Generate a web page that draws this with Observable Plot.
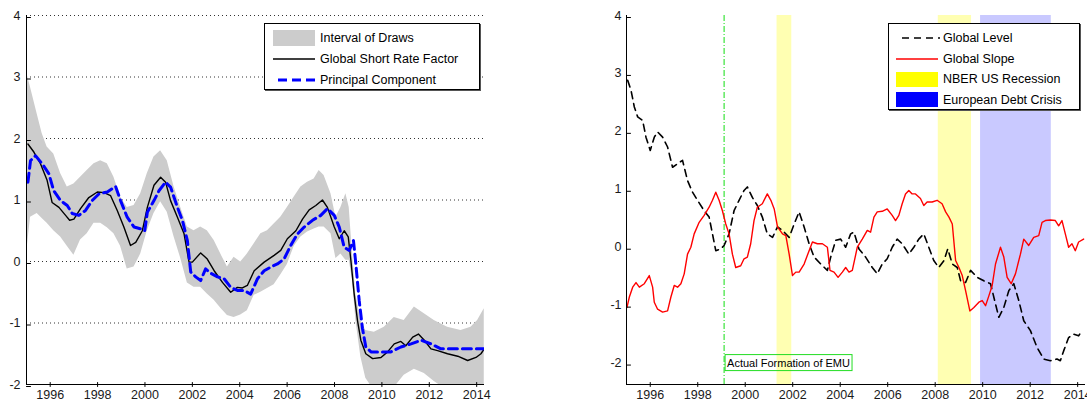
<!DOCTYPE html>
<html>
<head>
<meta charset="utf-8">
<script src="https://cdn.jsdelivr.net/npm/d3@7"></script>
<script src="https://cdn.jsdelivr.net/npm/@observablehq/plot@0.6"></script>
<style>
  body { margin: 0; background: #fff; }
  #wrap { position: relative; width: 1087px; height: 403px; overflow: hidden; background: #fff;
          font-family: "Liberation Sans", Arial, sans-serif; }
  .panel { position: absolute; top: 0; }
  .legend { position: absolute; border: 1px solid #000; background: #fff; box-shadow: 1px 1px 0 #555;
            font-size: 12.5px; color: #000; }
  .legend .row { position: absolute; left: 0; right: 0; height: 16px; line-height: 16px; white-space: nowrap; }
  .legend .sw { position: absolute; top: 0; height: 16px; }
  .legend .tx { position: absolute; top: 0; }
</style>
</head>
<body>
<div id="wrap">
  <div id="leftPanel" class="panel" style="left:0px"></div>
  <div id="rightPanel" class="panel" style="left:590px"></div>
</div>
<script>
// ---------------- Data ----------------
const xTicks = [1996, 1998, 2000, 2002, 2004, 2006, 2008, 2010, 2012, 2014];
const yTicks = [-2, -1, 0, 1, 2, 3, 4];
const gridLevels = [-1, 0, 1, 2, 3, 4];

// Left panel: Interval of Draws (band)
const bandYear = [1995.00,1995.17,1995.45,1995.66,1995.87,1996.15,1996.44,1996.72,1997.00,1997.28,1997.56,1997.85,1998.13,1998.41,1998.69,1998.97,1999.25,1999.54,1999.82,2000.10,2000.38,2000.66,2000.94,2001.23,2001.51,2001.79,2002.07,2002.35,2002.63,2002.92,2003.20,2003.48,2003.76,2004.04,2004.32,2004.61,2004.89,2005.17,2005.45,2005.73,2006.01,2006.30,2006.58,2006.86,2007.14,2007.35,2007.56,2007.85,2008.06,2008.27,2008.48,2008.62,2008.76,2008.90,2009.11,2009.32,2009.68,2010.10,2010.52,2010.94,2011.37,2011.79,2012.21,2012.77,2013.34,2013.76,2014.04,2014.32];
const bandUpper = [3.08,2.83,2.40,2.08,1.86,1.75,1.43,1.21,1.26,1.37,1.48,1.59,1.64,1.59,1.37,1.05,0.88,0.91,1.10,1.43,1.70,1.80,1.64,1.21,0.88,0.56,0.50,0.56,0.50,0.34,0.12,-0.09,0.07,-0.01,0.12,0.29,0.45,0.50,0.61,0.72,0.88,1.05,1.21,1.29,1.34,1.48,1.40,1.10,0.72,0.88,1.10,0.88,0.12,-0.53,-0.96,-1.12,-1.15,-1.07,-0.91,-0.96,-0.74,-0.85,-0.96,-1.07,-1.12,-1.07,-0.96,-0.77];
const bandLower = [0.12,0.72,0.78,0.70,0.62,0.50,0.40,0.25,0.10,0.35,0.45,0.62,0.62,0.55,0.45,0.25,-0.12,-0.09,0.12,0.50,0.78,0.97,0.80,0.40,0.05,-0.35,-0.42,-0.42,-0.53,-0.63,-0.76,-0.88,-0.91,-0.87,-0.80,-0.55,-0.50,-0.44,-0.38,-0.22,-0.05,0.25,0.40,0.48,0.53,0.56,0.56,0.45,0.05,0.12,0.02,0.02,-0.30,-0.95,-1.55,-1.90,-2.10,-2.10,-2.05,-1.85,-1.75,-1.82,-1.95,-2.10,-2.10,-2.10,-2.10,-2.10];

// Left panel: Global Short Rate Factor
const shortRateYear = [1995.06,1995.31,1995.59,1995.87,1996.08,1996.37,1996.65,1996.82,1997.00,1997.28,1997.63,1997.99,1998.27,1998.55,1998.83,1999.11,1999.39,1999.61,1999.89,2000.10,2000.38,2000.66,2000.87,2001.08,2001.37,2001.65,2001.86,2002.00,2002.35,2002.63,2002.92,2003.27,2003.62,2003.90,2004.11,2004.32,2004.61,2005.03,2005.45,2005.73,2006.01,2006.37,2006.65,2006.93,2007.21,2007.49,2007.70,2007.99,2008.20,2008.41,2008.58,2008.69,2008.83,2008.97,2009.11,2009.32,2009.61,2009.96,2010.24,2010.52,2010.80,2011.01,2011.30,2011.54,2011.79,2012.07,2012.35,2012.77,2013.20,2013.62,2013.97,2014.18,2014.32];
const shortRateValue = [1.91,1.78,1.59,1.32,0.96,0.88,0.75,0.67,0.69,0.86,1.04,1.13,1.12,1.07,0.83,0.56,0.26,0.31,0.50,0.88,1.24,1.37,1.29,0.99,0.72,0.45,-0.01,-0.01,0.14,0.04,-0.15,-0.34,-0.50,-0.42,-0.43,-0.39,-0.15,-0.01,0.10,0.18,0.37,0.50,0.69,0.84,0.91,1.00,0.88,0.56,0.37,0.50,0.40,0.02,-0.53,-0.96,-1.28,-1.50,-1.58,-1.56,-1.47,-1.34,-1.30,-1.37,-1.23,-1.18,-1.28,-1.42,-1.45,-1.50,-1.54,-1.61,-1.56,-1.50,-1.42];

// Left panel: Principal Component
const pcYear = [1995.06,1995.17,1995.38,1995.66,1995.94,1996.15,1996.44,1996.72,1996.93,1997.21,1997.49,1997.77,1998.06,1998.41,1998.76,1998.97,1999.25,1999.54,1999.82,1999.99,2000.10,2000.38,2000.59,2000.87,2001.08,2001.37,2001.58,2001.79,2001.93,2002.14,2002.35,2002.56,2002.77,2003.06,2003.34,2003.62,2003.90,2004.18,2004.46,2004.75,2005.03,2005.31,2005.59,2005.87,2006.15,2006.44,2006.72,2007.07,2007.42,2007.70,2007.99,2008.20,2008.41,2008.62,2008.80,2008.90,2009.04,2009.18,2009.32,2009.54,2009.96,2010.38,2010.80,2011.23,2011.65,2012.07,2012.49,2014.32];
const pcValue = [1.29,1.64,1.72,1.59,1.43,1.15,0.99,0.91,0.78,0.75,0.83,0.99,1.10,1.13,1.22,0.99,0.72,0.56,0.53,0.50,0.80,0.99,1.15,1.29,1.21,0.88,0.67,0.34,-0.17,-0.25,-0.31,-0.12,-0.19,-0.25,-0.28,-0.42,-0.47,-0.47,-0.53,-0.28,-0.15,-0.09,-0.04,0.04,0.26,0.45,0.56,0.67,0.75,0.86,0.75,0.56,0.23,0.18,0.34,-0.04,-0.63,-1.09,-1.39,-1.47,-1.47,-1.47,-1.39,-1.34,-1.28,-1.34,-1.42,-1.42];

// Right panel: Global Level
const levelYear = [1995.05,1995.19,1995.33,1995.47,1995.68,1995.82,1996.00,1996.17,1996.31,1996.52,1996.73,1996.94,1997.15,1997.36,1997.57,1997.78,1997.99,1998.27,1998.48,1998.62,1998.76,1998.97,1999.11,1999.32,1999.53,1999.74,1999.95,2000.09,2000.30,2000.51,2000.72,2000.93,2001.15,2001.36,2001.57,2001.85,2002.06,2002.27,2002.48,2002.69,2002.90,2003.18,2003.46,2003.60,2003.81,2004.02,2004.23,2004.44,2004.58,2004.79,2005.07,2005.35,2005.56,2005.77,2005.98,2006.19,2006.40,2006.61,2006.89,2007.10,2007.31,2007.52,2007.73,2007.94,2008.15,2008.37,2008.53,2008.72,2008.93,2009.07,2009.28,2009.49,2009.77,2010.05,2010.33,2010.54,2010.68,2010.89,2011.10,2011.31,2011.52,2011.73,2012.01,2012.29,2012.57,2012.85,2013.13,2013.27,2013.41,2013.62,2013.83,2014.04,2014.18];
const levelValue = [2.88,2.71,2.42,2.25,2.19,1.90,1.67,1.90,1.99,1.90,1.73,1.38,1.44,1.50,1.15,0.95,0.81,0.63,0.52,0.23,-0.06,-0.03,0.03,0.23,0.63,0.81,0.98,1.04,0.86,0.72,0.52,0.23,0.17,0.35,0.29,0.17,0.40,0.61,0.35,0.06,-0.17,-0.29,-0.40,-0.17,0.12,0.14,0.00,0.23,0.26,-0.03,-0.17,-0.35,-0.46,-0.29,-0.20,0.00,0.14,0.06,-0.12,0.00,0.14,0.23,0.00,-0.23,-0.35,-0.23,-0.03,-0.29,-0.35,-0.58,-0.61,-0.40,-0.52,-0.58,-0.63,-0.98,-1.21,-1.04,-0.75,-0.63,-0.92,-1.27,-1.44,-1.73,-1.93,-1.96,-1.93,-1.96,-1.79,-1.56,-1.50,-1.53,-1.44];

// Right panel: Global Slope
const slopeYear = [1995.02,1995.12,1995.26,1995.40,1995.54,1995.75,1995.96,1996.10,1996.17,1996.31,1996.52,1996.73,1996.87,1997.01,1997.15,1997.29,1997.43,1997.57,1997.71,1997.85,1998.06,1998.27,1998.48,1998.62,1998.76,1998.90,1999.04,1999.18,1999.32,1999.46,1999.60,1999.81,1999.95,2000.09,2000.23,2000.37,2000.51,2000.72,2000.93,2001.08,2001.22,2001.36,2001.57,2001.71,2001.85,2001.99,2002.13,2002.27,2002.48,2002.69,2002.83,2003.04,2003.25,2003.46,2003.57,2003.74,2003.91,2004.09,2004.23,2004.37,2004.51,2004.72,2004.93,2005.14,2005.28,2005.42,2005.56,2005.77,2005.98,2006.19,2006.33,2006.47,2006.61,2006.75,2006.89,2007.03,2007.17,2007.38,2007.52,2007.66,2007.87,2008.08,2008.29,2008.44,2008.58,2008.72,2008.86,2009.00,2009.14,2009.28,2009.46,2009.63,2009.84,2009.98,2010.12,2010.26,2010.40,2010.54,2010.75,2010.89,2011.03,2011.20,2011.38,2011.59,2011.73,2011.94,2012.15,2012.36,2012.50,2012.64,2012.85,2013.06,2013.20,2013.34,2013.48,2013.62,2013.76,2013.90,2014.04,2014.25];
const slopeValue = [-1.04,-0.86,-0.69,-0.61,-0.69,-0.63,-0.49,-0.69,-0.95,-1.07,-1.12,-1.10,-0.86,-0.66,-0.69,-0.63,-0.46,-0.12,0.00,0.23,0.43,0.55,0.69,0.81,0.95,0.81,0.63,0.40,0.23,-0.12,-0.35,-0.32,-0.20,-0.17,0.06,0.46,0.69,0.75,0.92,0.81,0.66,0.35,0.23,0.20,-0.12,-0.49,-0.43,-0.43,-0.29,-0.06,0.09,0.06,0.06,0.00,-0.40,-0.43,-0.52,-0.43,-0.35,-0.43,-0.40,0.00,0.14,0.29,0.26,0.52,0.61,0.62,0.66,0.55,0.46,0.55,0.75,0.92,0.98,0.92,0.92,0.84,0.72,0.78,0.78,0.81,0.75,0.61,0.52,0.40,-0.23,-0.35,-0.49,-0.75,-1.10,-1.04,-0.95,-0.92,-1.01,-0.84,-0.66,-0.29,0.00,-0.17,-0.52,-0.63,-0.46,-0.12,0.14,0.03,0.17,0.20,0.43,0.46,0.47,0.46,0.37,0.46,0.23,0.00,0.06,-0.06,0.09,0.14];

// Right panel: shaded periods and EMU marker
const nberStart = [2001.34, 2008.13];
const nberEnd = [2001.96, 2009.53];
const debtStart = [2009.91];
const debtEnd = [2012.89];
const emuDate = 1999.11;
const emuLabel = "Actual Formation of EMU";

const xDomain = [1995, 2014.33];
const leftYDomain = [-2, 4];
const rightYDomain = [-2.37, 4];

// ---------------- Build tables ----------------
const band = bandYear.map((year, i) => ({year, lo: bandLower[i], hi: bandUpper[i]}));
const shortRate = shortRateYear.map((year, i) => ({year, value: shortRateValue[i]}));
const pc = pcYear.map((year, i) => ({year, value: pcValue[i]}));
const level = levelYear.map((year, i) => ({year, value: levelValue[i]}));
const slope = slopeYear.map((year, i) => ({year, value: slopeValue[i]}));
const nber = nberStart.map((start, i) => ({start, end: nberEnd[i]}));
const debt = debtStart.map((start, i) => ({start, end: debtEnd[i]}));

const tickRight = {draw(ctx, l) { ctx.moveTo(0, 0); ctx.lineTo(l, 0); }};
const tickUp = {draw(ctx, l) { ctx.moveTo(0, 0); ctx.lineTo(0, -l); }};

const font = "'Liberation Sans', Arial, sans-serif";
const fmt = d => String(d);

function axesMarks(yDom, yPad) {
  return [
    Plot.ruleX([xDomain[0]], {stroke: "#000", strokeWidth: 1}),
    Plot.ruleY([yDom[0]], {stroke: "#000", strokeWidth: 1}),
    Plot.axisY(yTicks, {tickSize: 0, tickPadding: yPad, label: null, tickFormat: fmt, fill: "#1a1a1a"}),
    Plot.axisX(xTicks, {tickSize: 0, tickPadding: 6, label: null, tickFormat: fmt, fill: "#1a1a1a"}),
    Plot.vector(yTicks, {x: xDomain[0], y: d => d, length: 4, shape: tickRight, stroke: "#000", strokeWidth: 1}),
    Plot.vector(xTicks, {x: d => d, y: yDom[0], length: 4, shape: tickUp, stroke: "#000", strokeWidth: 1})
  ];
}

const leftPlot = Plot.plot({
  width: 490, height: 403,
  marginLeft: 26, marginRight: 6, marginTop: 15, marginBottom: 19,
  x: {domain: xDomain},
  y: {domain: leftYDomain},
  style: {fontFamily: font, fontSize: "12.5px", background: "transparent", overflow: "visible"},
  marks: [
    Plot.ruleY(gridLevels, {stroke: "#333", strokeDasharray: "1,3", strokeWidth: 1}),
    Plot.areaY(band, {x: "year", y1: "lo", y2: "hi", fill: "#cccccc", clip: true}),
    Plot.line(shortRate, {x: "year", y: "value", stroke: "#000", strokeWidth: 1.4, clip: true}),
    Plot.line(pc, {x: "year", y: "value", stroke: "#0000ff", strokeWidth: 3, strokeDasharray: "9,5", clip: true}),
    ...axesMarks(leftYDomain, 6)
  ]
});
document.getElementById("leftPanel").appendChild(leftPlot);

const rightPlot = Plot.plot({
  width: 497, height: 403,
  marginLeft: 36, marginRight: 2, marginTop: 15, marginBottom: 19,
  x: {domain: xDomain},
  y: {domain: rightYDomain},
  style: {fontFamily: font, fontSize: "12.5px", background: "transparent", overflow: "visible"},
  marks: [
    Plot.rect(nber, {x1: "start", x2: "end", fill: "#ffff00", fillOpacity: 0.3}),
    Plot.rect(debt, {x1: "start", x2: "end", fill: "#0000ff", fillOpacity: 0.21}),
    Plot.ruleX([emuDate], {stroke: "#11dd11", strokeWidth: 1, strokeDasharray: "6,2,1,2"}),
    Plot.line(level, {x: "year", y: "value", stroke: "#000", strokeWidth: 1.6, strokeDasharray: "7,5", clip: true}),
    Plot.line(slope, {x: "year", y: "value", stroke: "#ff0000", strokeWidth: 1.4, clip: true}),
    Plot.text([emuLabel], {x: emuDate, y: -2, text: d => d, textAnchor: "start", dx: 3, fontSize: 11, fill: "#000"}),
    ...axesMarks(rightYDomain, 5)
  ]
});
document.getElementById("rightPanel").appendChild(rightPlot);

// Box around the EMU annotation
rightPlot.querySelectorAll("text").forEach(t => {
  if (t.textContent === emuLabel) {
    const b = t.getBBox();
    const r = document.createElementNS("http://www.w3.org/2000/svg", "rect");
    r.setAttribute("x", b.x - 2);
    r.setAttribute("y", b.y - 2);
    r.setAttribute("width", b.width + 4);
    r.setAttribute("height", b.height + 4);
    r.setAttribute("fill", "none");
    r.setAttribute("stroke", "#22dd22");
    r.setAttribute("stroke-width", "1");
    if (t.getAttribute("transform")) r.setAttribute("transform", t.getAttribute("transform"));
    t.parentNode.insertBefore(r, t);
  }
});

// ---------------- Legends (HTML) ----------------
function makeLegend(left, top, width, height, items) {
  const box = document.createElement("div");
  box.className = "legend";
  Object.assign(box.style, {left: left + "px", top: top + "px", width: width + "px", height: height + "px"});
  items.forEach(it => {
    const row = document.createElement("div");
    row.className = "row";
    row.style.top = (it.cy - 8) + "px";
    const sw = document.createElementNS("http://www.w3.org/2000/svg", "svg");
    sw.setAttribute("class", "sw");
    sw.setAttribute("width", 44);
    sw.setAttribute("height", 16);
    sw.style.left = it.swLeft + "px";
    sw.innerHTML = it.swatch;
    row.appendChild(sw);
    const tx = document.createElement("span");
    tx.className = "tx";
    tx.style.left = it.txLeft + "px";
    tx.textContent = it.label;
    row.appendChild(tx);
    box.appendChild(row);
  });
  document.getElementById("wrap").appendChild(box);
}

const leftLegendLabels = ["Interval of Draws", "Global Short Rate Factor", "Principal Component"];
makeLegend(264, 23, 214, 65, [
  {cy: 14, swLeft: 8, txLeft: 55, label: leftLegendLabels[0], swatch: '<rect x="0" y="0" width="42" height="16" fill="#cccccc"/>'},
  {cy: 35, swLeft: 8, txLeft: 55, label: leftLegendLabels[1], swatch: '<line x1="0" x2="42" y1="8" y2="8" stroke="#000" stroke-width="1.4"/>'},
  {cy: 56, swLeft: 8, txLeft: 55, label: leftLegendLabels[2], swatch: '<line x1="5" x2="42" y1="8" y2="8" stroke="#0000ff" stroke-width="3" stroke-dasharray="9,5"/>'}
]);

const rightLegendLabels = ["Global Level", "Global Slope", "NBER US Recession", "European Debt Crisis"];
makeLegend(888, 23, 190, 85, [
  {cy: 14, swLeft: 7, txLeft: 54, label: rightLegendLabels[0], swatch: '<line x1="6" x2="44" y1="8" y2="8" stroke="#000" stroke-width="1.6" stroke-dasharray="7,5"/>'},
  {cy: 35, swLeft: 7, txLeft: 54, label: rightLegendLabels[1], swatch: '<line x1="0" x2="42" y1="8" y2="8" stroke="#ff0000" stroke-width="1.4"/>'},
  {cy: 55, swLeft: 7, txLeft: 54, label: rightLegendLabels[2], swatch: '<rect x="0" y="1" width="42" height="15" fill="#ffff00"/>'},
  {cy: 76, swLeft: 7, txLeft: 54, label: rightLegendLabels[3], swatch: '<rect x="0" y="0" width="42" height="15" fill="#0000ff"/>'}
]);
</script>
</body>
</html>
